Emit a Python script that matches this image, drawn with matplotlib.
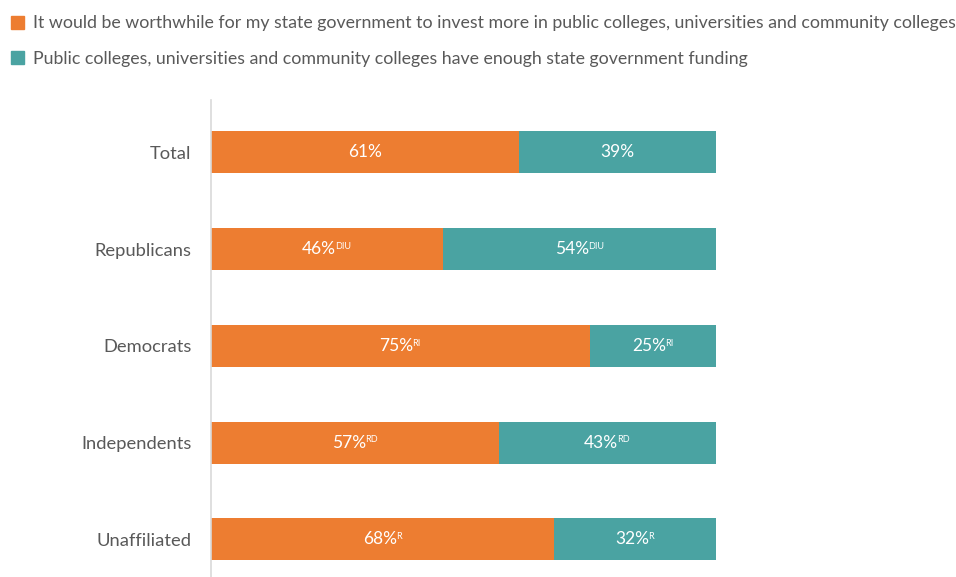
import matplotlib.pyplot as plt
from matplotlib.patches import Patch

plt.rcParams['font.family'] = ['Lato', 'DejaVu Sans']

groups = ['Total', 'Republicans', 'Democrats', 'Independents', 'Unaffiliated']
worthwhile = [61, 46, 75, 57, 68]
enough = [39, 54, 25, 43, 32]
worthwhile_sup = ['', 'DIU', 'RI', 'RD', 'R']
enough_sup = ['', 'DIU', 'RI', 'RD', 'R']
series_names = ['It would be worthwhile for my state government to invest more in public colleges, universities and community colleges',
                'Public colleges, universities and community colleges have enough state government funding']

orange = '#ED7D31'
teal = '#4AA3A2'
grey = '#595959'

fig = plt.figure(figsize=(9.56, 5.77), dpi=100)
ax = fig.add_axes([211 / 956, 0, 505 / 956, 1 - 100 / 577])

pos = list(range(len(groups)))
ax.barh(pos, worthwhile, height=0.434, color=orange)
ax.barh(pos, enough, left=worthwhile, height=0.434, color=teal)

ax.set_xlim(0, 100)
ax.set_ylim(4.39, -0.54)
ax.set_yticks(pos)
ax.set_yticklabels(groups, fontsize=13.2, color=grey)
ax.tick_params(axis='y', length=0, pad=14)
ax.set_xticks([])
for side in ['top', 'right', 'bottom']:
    ax.spines[side].set_visible(False)
ax.spines['left'].set_color('#d9d9d9')
ax.spines['left'].set_linewidth(1.2)

# value labels, with small significance letters after the number
labels = []
for i in pos:
    for start, val, sup in [(0, worthwhile[i], worthwhile_sup[i]),
                            (worthwhile[i], enough[i], enough_sup[i])]:
        t = ax.text(start + val / 2, i, f'{val}%', ha='center', va='center',
                    color='white', fontsize=12.5)
        s = None
        if sup:
            s = ax.annotate(sup, xy=(0.97, 0.95), xycoords=t, ha='left', va='top',
                            color='white', fontsize=6.5)
        labels.append((t, s))

# center each number+letters pair on its segment
fig.canvas.draw()
r = fig.canvas.get_renderer()
for t, s in labels:
    if s is None:
        continue
    w = s.get_window_extent(r).width
    x, y = t.get_position()
    px = ax.transData.transform((x, y))
    nx = ax.transData.inverted().transform((px[0] - w / 2, px[1]))[0]
    t.set_position((nx, y))

handles = [Patch(color=orange), Patch(color=teal)]
fig.legend(handles, series_names, loc='upper left', bbox_to_anchor=(-0.002, 0.995),
           frameon=False, fontsize=12.8, labelcolor=grey, handlelength=0.75,
           handleheight=0.75, handletextpad=0.5, labelspacing=1.1,
           borderaxespad=0.3)

fig.savefig('out.png', dpi=100)
